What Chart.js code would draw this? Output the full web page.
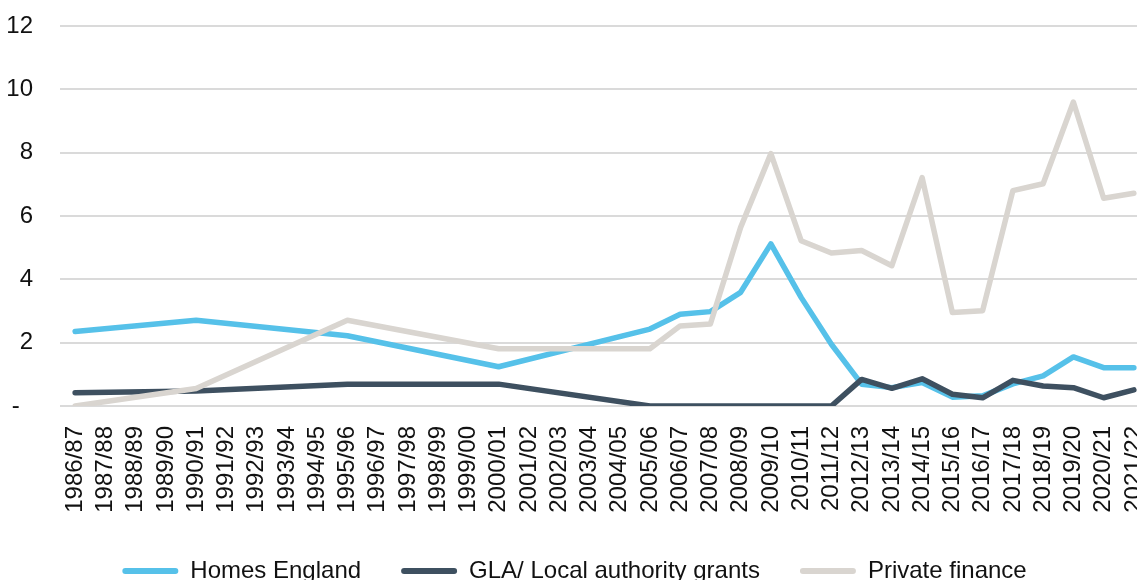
<!DOCTYPE html>
<html lang="en">
<head>
  <meta charset="UTF-8">
  <title>Funding sources</title>
  <script src="https://cdn.jsdelivr.net/npm/chart.js"></script>
  <style>
    html, body { margin: 0; padding: 0; overflow: hidden; background: #fff; }
    #wrap { position: relative; width: 1149px; height: 593px; }
  </style>
</head>
<body>
  <div id="wrap"><canvas id="myChart"></canvas></div>

  <script>
    const years = [
      '1986/87', '1987/88', '1988/89', '1989/90', '1990/91', '1991/92', '1992/93', '1993/94', '1994/95',
      '1995/96', '1996/97', '1997/98', '1998/99', '1999/00', '2000/01', '2001/02', '2002/03', '2003/04',
      '2004/05', '2005/06', '2006/07', '2007/08', '2008/09', '2009/10', '2010/11', '2011/12', '2012/13',
      '2013/14', '2014/15', '2015/16', '2016/17', '2017/18', '2018/19', '2019/20', '2020/21', '2021/22'
    ];

    // early years only have a value every five years; gaps are spanned
    const homesEngland = [
      2.35, null, null, null, 2.71, null, null, null, null,
      2.22, null, null, null, null, 1.24, null, null, null,
      null, 2.43, 2.90, 2.98, 3.59, 5.12, 3.43, 1.95, 0.69,
      0.58, 0.74, 0.28, 0.32, 0.70, 0.95, 1.55, 1.21, 1.21
    ];
    const glaGrants = [
      0.42, null, null, null, 0.47, null, null, null, null,
      0.69, null, null, null, null, 0.69, null, null, null,
      null, 0, 0, 0, 0, 0, 0, 0, 0.84,
      0.56, 0.86, 0.37, 0.26, 0.81, 0.63, 0.58, 0.26, 0.51
    ];
    const privateFinance = [
      0, null, null, null, 0.55, null, null, null, null,
      2.71, null, null, null, null, 1.81, null, null, null,
      null, 1.81, 2.53, 2.59, 5.64, 7.97, 5.22, 4.83, 4.91,
      4.43, 7.21, 2.95, 3.01, 6.80, 7.02, 9.60, 6.56, 6.72
    ];

    const COLORS = {
      blue: 'rgb(86, 193, 233)',
      slate: 'rgb(62, 80, 96)',
      stone: 'rgb(217, 213, 208)'
    };

    const lineStyle = (label, data, color, order) => ({
      label: label,
      data: data,
      borderColor: color,
      backgroundColor: color,
      borderWidth: 5.5,
      borderJoinStyle: 'round',
      borderCapStyle: 'round',
      pointRadius: 0,
      pointHoverRadius: 0,
      tension: 0,
      spanGaps: true,
      order: order
    });

    const ctx = document.getElementById('myChart');

    new Chart(ctx, {
      type: 'line',
      data: {
        labels: years,
        datasets: [
          lineStyle('Homes England', homesEngland, COLORS.blue, 3),
          lineStyle('GLA/ Local authority grants', glaGrants, COLORS.slate, 2),
          lineStyle('Private finance', privateFinance, COLORS.stone, 1)
        ]
      },
      options: {
        responsive: true,
        maintainAspectRatio: false,
        animation: false,
        layout: { padding: { top: 26, left: 0, right: 0, bottom: 0 } },
        plugins: {
          title: { display: false },
          tooltip: { enabled: false },
          legend: {
            position: 'bottom',
            labels: {
              color: '#111',
              font: { family: 'Liberation Sans', size: 24 },
              boxWidth: 56,
              boxHeight: 6,
              padding: 40,
              useBorderRadius: true,
              borderRadius: 3,
              sort: (a, b) => a.datasetIndex - b.datasetIndex,
              generateLabels(chart) {
                const items = Chart.defaults.plugins.legend.labels.generateLabels(chart);
                items.forEach(item => {
                  item.fillStyle = item.strokeStyle;
                  item.lineWidth = 0;
                });
                return items;
              }
            }
          }
        },
        scales: {
          x: {
            offset: true,
            grid: { display: false, drawTicks: false },
            border: { display: false },
            ticks: {
              autoSkip: false,
              minRotation: 90,
              maxRotation: 90,
              padding: 20,
              color: '#111',
              font: { family: 'Liberation Sans', size: 24 }
            },
            afterFit(scale) {
              scale.height = 113;
              scale.paddingLeft = 0;
              scale.paddingRight = 0;
            }
          },
          y: {
            min: 0,
            max: 12,
            grid: { color: '#dadada', lineWidth: 2, drawTicks: false },
            border: { display: false },
            ticks: {
              stepSize: 2,
              padding: 27,
              color: '#111',
              font: { family: 'Liberation Sans', size: 24 },
              callback: (v) => v === 0 ? '-  ' : v
            },
            afterFit(scale) {
              scale.width = 60;
              scale.paddingTop = 0;
              scale.paddingBottom = 0;
            }
          }
        }
      }
    });
  </script>
</body>
</html>
